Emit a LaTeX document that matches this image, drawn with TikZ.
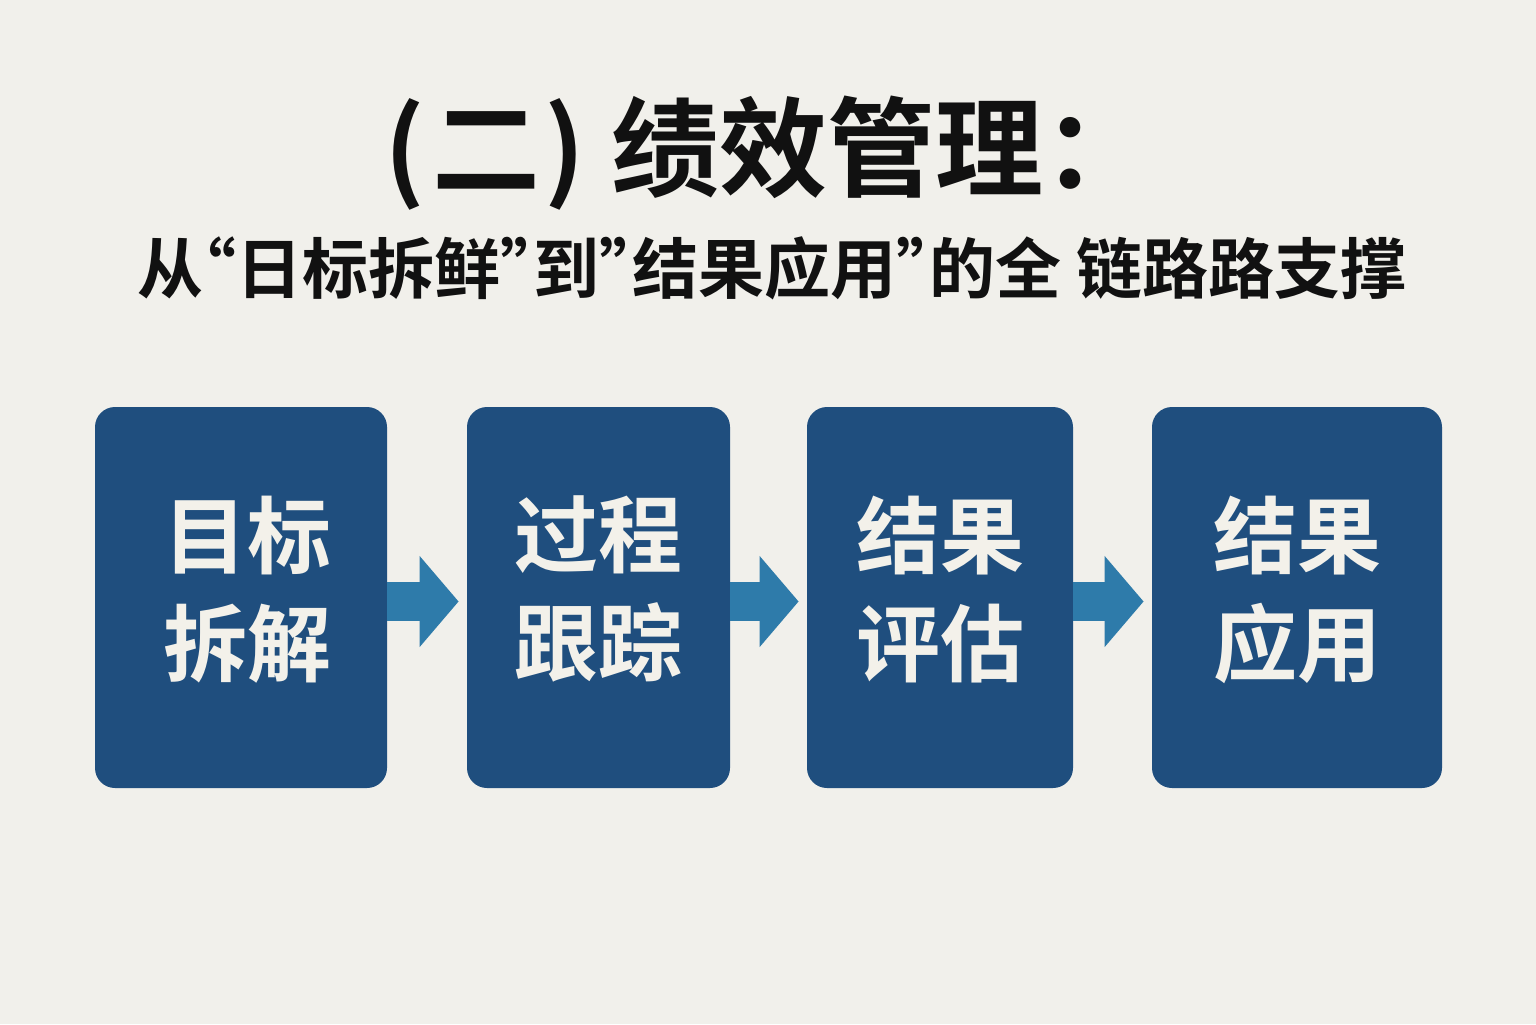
\documentclass[tikz,border=0pt]{standalone}
\usepackage{fontspec}
\newfontfamily\cjkb{Noto Sans CJK SC Bold}
\newfontfamily\cjkbh{Noto Sans CJK SC Bold}[RawFeature=+halt]
\usetikzlibrary{arrows.meta}
\definecolor{bg}{HTML}{F1F0EB}
\definecolor{boxblue}{HTML}{1F4E7E}
\definecolor{arrowblue}{HTML}{2E7BAA}
\definecolor{boxtext}{HTML}{F3F1EA}
\definecolor{titletext}{HTML}{111111}
\begin{document}
\begin{tikzpicture}[x=0.5pt,y=-0.5pt,
  stagebox/.style={fill=boxblue,rounded corners=10pt,inner sep=0pt,minimum height=190.5pt,
    text=boxtext,align=center,text depth=12pt,font=\cjkb\fontsize{42pt}{54pt}\selectfont},
  flowarrow/.style={draw=arrowblue,line width=19.5pt,shorten >=4pt,
    -{Triangle[width=44.5pt,length=19.5pt]}}]
\fill[bg] (0,0) rectangle (1536,1024);
\useasboundingbox (0,0) rectangle (1536,1024);
\node[text=titletext,font=\cjkb\fontsize{54pt}{60pt}\selectfont] (title) at (768,153) {(\kern4pt 二\kern2pt)\hspace{13pt}绩效管理：};
\node[text=titletext,font=\cjkbh\fontsize{33pt}{36pt}\selectfont] (subtitle) at (772,268) {从“日标拆鲜”到”结果应用”的全 链路路支撑};
\node[stagebox,minimum width=146pt] (b1) at (241,597.5) {\kern6pt 目标\\\kern6pt 拆解};
\node[stagebox,minimum width=131.5pt] (b2) at (598.5,597.5) {过程\\跟踪};
\node[stagebox,minimum width=133pt] (b3) at (940,597.5) {结果\\评估};
\node[stagebox,minimum width=145pt] (b4) at (1297,597.5) {结果\\应用};
\draw[flowarrow] ([yshift=-2pt]b1.east) -- ([yshift=-2pt]b2.west);
\draw[flowarrow] ([yshift=-2pt]b2.east) -- ([yshift=-2pt]b3.west);
\draw[flowarrow] ([yshift=-2pt]b3.east) -- ([yshift=-2pt]b4.west);
\end{tikzpicture}
\end{document}
